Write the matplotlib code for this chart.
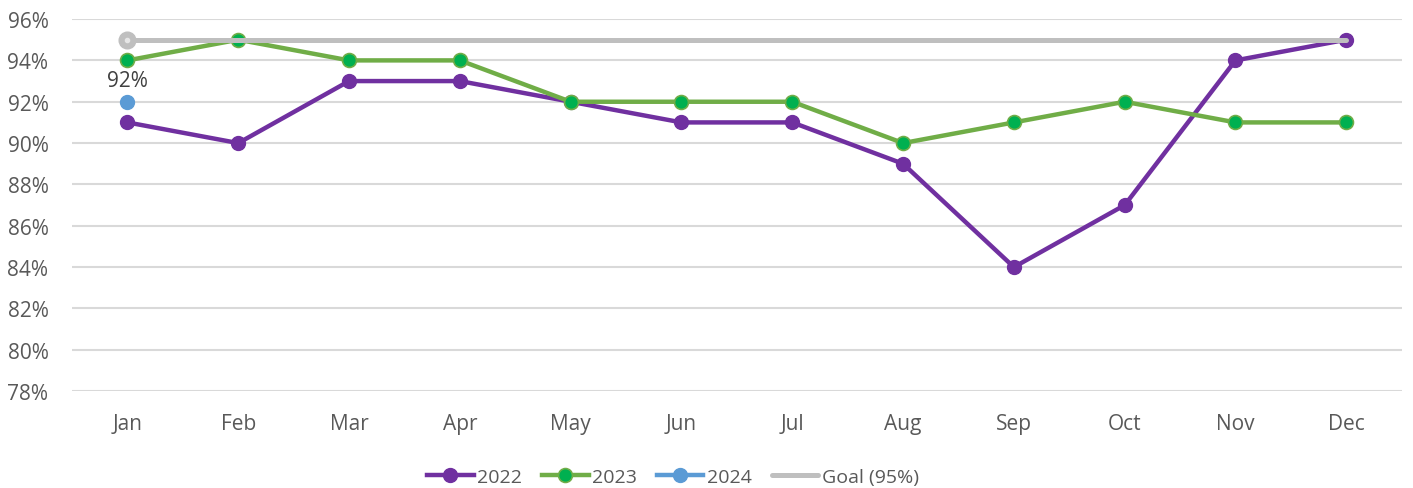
import numpy as np
import matplotlib.pyplot as plt
from matplotlib.ticker import FuncFormatter

# Dados
meses = ['Jan', 'Feb', 'Mar', 'Apr', 'May', 'Jun', 'Jul', 'Aug', 'Sep', 'Oct', 'Nov', 'Dec']
valores_2022 = [91, 90, 93, 93, 92, 91, 91, 89, 84, 87, 94, 95]
valores_2023 = [94, 95, 94, 94, 92, 92, 92, 90, 91, 92, 91, 91]
valores_2024 = [92]
meta = [95] * 12

plt.rcParams['font.family'] = ['Open Sans', 'DejaVu Sans']

fig = plt.figure(figsize=(14.13, 4.89), dpi=100)
ax = fig.add_axes([0.051, 0.198, 0.941, 0.761])

x = np.arange(len(meses))

ax.plot(x, valores_2022, color='#7030a0', lw=3.2, marker='o', ms=10,
        mfc='#7030a0', mec='#7030a0', label='2022', zorder=3)
ax.plot(x, valores_2023, color='#70ad47', lw=3.2, marker='o', ms=10,
        mfc='#00b050', mec='#70ad47', mew=1.2, label='2023', zorder=3)
ax.plot(x[:len(valores_2024)], valores_2024, color='#5b9bd5', lw=3.2, marker='o', ms=10,
        mfc='#5b9bd5', mec='#5b9bd5', label='2024', zorder=4)
ax.plot(x, meta, color='#bfbfbf', lw=3.6, solid_capstyle='round', label='Goal (95%)', zorder=4)
# marcador da meta apenas em Jan
ax.plot(x[0], meta[0], marker='o', ms=12, mfc='#bfbfbf', mec='#bfbfbf', zorder=5)
ax.plot(x[0], meta[0], marker='o', ms=3, mfc='#e6e6e6', mec='#e6e6e6', zorder=6)

# rotulo do ponto de 2024
ax.annotate(f'{valores_2024[0]}%', (x[0], valores_2024[0]), xytext=(0, 8),
            textcoords='offset points', ha='center', va='bottom',
            fontsize=15, color='#404040')

ax.set_xlim(-0.5, len(meses) - 0.5)
ax.set_ylim(78, 96)
ax.set_yticks(np.arange(78, 97, 2))
ax.yaxis.set_major_formatter(FuncFormatter(lambda v, p: f'{v:.0f}%'))
ax.set_xticks(x)
ax.set_xticklabels(meses)
ax.tick_params(axis='both', length=0, labelsize=15, labelcolor='#595959')
ax.tick_params(axis='x', pad=16)
ax.tick_params(axis='y', pad=17)

ax.grid(axis='y', color='#d9d9d9', lw=1.5)
ax.set_axisbelow(True)
for s in ax.spines.values():
    s.set_visible(False)

ax.legend(loc='center', bbox_to_anchor=(0.452, -0.23), ncol=4, frameon=False,
          fontsize=14, labelcolor='#595959', handlelength=2.4, handletextpad=0.2,
          columnspacing=1.0)

plt.savefig('out.png', dpi=100)
plt.close()
